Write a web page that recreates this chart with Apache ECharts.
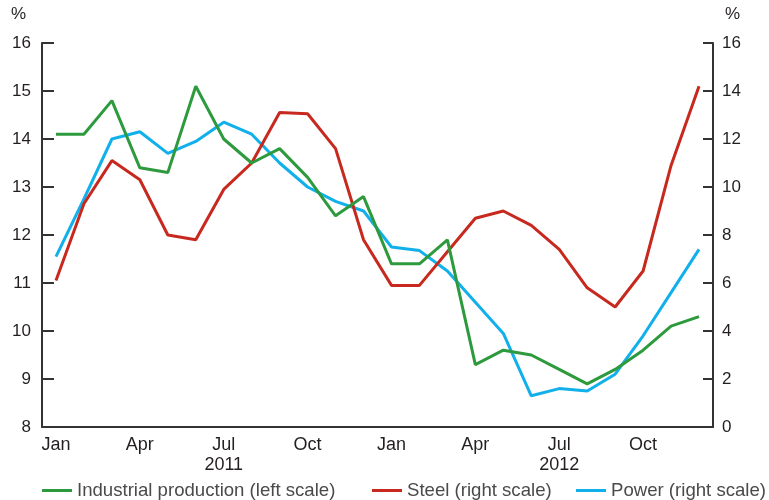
<!DOCTYPE html>
<html>
<head>
<meta charset="utf-8">
<script src="https://cdn.jsdelivr.net/npm/echarts@6/dist/echarts.min.js"></script>
<style>html,body{margin:0;padding:0;background:#fff}#c{width:769px;height:500px}</style>
</head>
<body>
<div id="c"></div>
<script>
var months = ['Jan','Feb','Mar','Apr','May','Jun','Jul','Aug','Sep','Oct','Nov','Dec',
              'Jan','Feb','Mar','Apr','May','Jun','Jul','Aug','Sep','Oct','Nov','Dec'];
var yearLabels = {6: '2011', 18: '2012'};
var seriesNames = ['Industrial production (left scale)', 'Steel (right scale)', 'Power (right scale)'];
var industrial = [14.1,14.1,14.8,13.4,13.3,15.1,14.0,13.5,13.8,13.2,12.4,12.8,
                  11.4,11.4,11.9,9.3,9.6,9.5,9.2,8.9,9.2,9.6,10.1,10.3];
var steel = [6.1,9.3,11.1,10.3,8.0,7.8,9.9,11.0,13.1,13.05,11.6,7.8,
             5.9,5.9,7.3,8.7,9.0,8.4,7.4,5.8,5.0,6.5,10.9,14.2];
var power = [7.1,9.5,12.0,12.3,11.4,11.9,12.7,12.2,11.0,10.0,9.4,9.0,
             7.5,7.35,6.5,5.2,3.9,1.3,1.6,1.5,2.2,3.8,5.6,7.4];
var leftTicks = {min: 8, max: 16, interval: 1};
var rightTicks = {min: 0, max: 16, interval: 2};

var txt = '#231f20';
var font = 'Liberation Sans';
var legendLefts = [40, 370, 574];
var chart = echarts.init(document.getElementById('c'), null, {renderer: 'canvas'});
chart.setOption({
  animation: false,
  textStyle: {fontFamily: font, color: txt},
  grid: {left: 42, right: 56, top: 43, bottom: 73, containLabel: false},
  legend: seriesNames.map(function (n, i) {
    return {
      left: legendLefts[i], top: 476, itemWidth: 30, itemHeight: 3, icon: 'rect', padding: [5, 2, 5, 2],
      textStyle: {fontFamily: font, fontSize: 18.6, color: '#4a4a4a'},
      data: [n]
    };
  }),
  graphic: [
    {type: 'text', left: 11, top: 6, style: {text: '%', font: '17px ' + font, fill: txt}},
    {type: 'text', left: 725, top: 6, style: {text: '%', font: '17px ' + font, fill: txt}}
  ],
  xAxis: {
    type: 'category', data: months, boundaryGap: true,
    axisLine: {lineStyle: {color: '#333', width: 2}},
    axisTick: {inside: true, length: 10, interval: 2, alignWithLabel: true, lineStyle: {color: '#333', width: 2}},
    axisLabel: {
      interval: 2, fontSize: 18, color: txt, margin: 8, lineHeight: 20,
      formatter: function (v, i) { return yearLabels[i] ? v + '\n' + yearLabels[i] : v; }
    },
    splitLine: {show: false}
  },
  yAxis: [
    {type: 'value', position: 'left', min: leftTicks.min, max: leftTicks.max, interval: leftTicks.interval,
     axisLine: {show: true, lineStyle: {color: '#333', width: 2}},
     axisTick: {show: true, inside: true, length: 12, lineStyle: {color: '#333', width: 2}},
     axisLabel: {fontSize: 17, color: txt, margin: 11},
     splitLine: {show: false}},
    {type: 'value', position: 'right', min: rightTicks.min, max: rightTicks.max, interval: rightTicks.interval,
     axisLine: {show: true, lineStyle: {color: '#333', width: 2}},
     axisTick: {show: true, inside: true, length: 10, lineStyle: {color: '#333', width: 2}},
     axisLabel: {fontSize: 17, color: txt, margin: 9},
     splitLine: {show: false}}
  ],
  series: [
    {name: seriesNames[0], type: 'line', yAxisIndex: 0, data: industrial,
     symbol: 'none', lineStyle: {width: 3, color: '#2e9a3e'}, itemStyle: {color: '#2e9a3e'}, z: 3},
    {name: seriesNames[1], type: 'line', yAxisIndex: 1, data: steel,
     symbol: 'none', lineStyle: {width: 3, color: '#c8291f'}, itemStyle: {color: '#c8291f'}, z: 2},
    {name: seriesNames[2], type: 'line', yAxisIndex: 1, data: power,
     symbol: 'none', lineStyle: {width: 3, color: '#12b0eb'}, itemStyle: {color: '#12b0eb'}, z: 1}
  ]
});
</script>
</body>
</html>
